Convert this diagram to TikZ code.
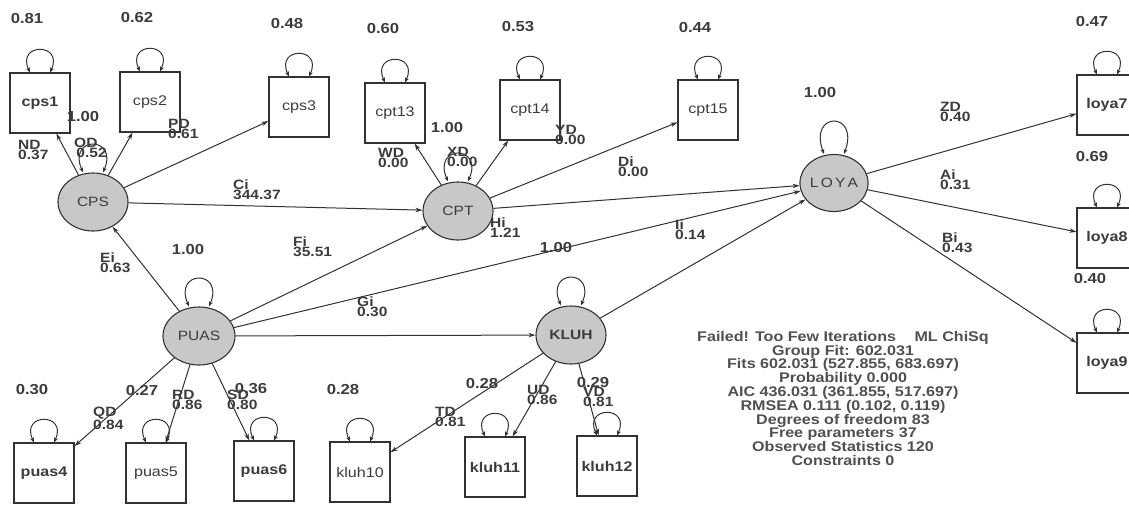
\documentclass[tikz,border=0pt]{standalone}
\usepackage{fontspec}
\setmainfont{Liberation Sans}[FakeStretch=1.15]
\usetikzlibrary{shapes.geometric,arrows.meta}
\definecolor{linec}{RGB}{50,50,50}
\definecolor{txtc}{RGB}{60,60,60}
\definecolor{statc}{RGB}{80,80,80}
\definecolor{latfill}{RGB}{200,200,200}
\newcommand\myloop[4]{% node, half width, ctrl dx, ctrl height
  \draw[loopa] ([xshift=-#2]#1.north) .. controls +(-#3,#4) and +(#3,#4) .. ([xshift=#2]#1.north);}
\begin{document}
\begin{tikzpicture}[x=1pt,y=-1pt,
  obs/.style={draw=linec, line width=1.1pt, minimum width=60pt, minimum height=60pt, inner sep=0pt, text=txtc, font=\fontsize{14}{16}\selectfont},
  obsb/.style={obs, font=\fontsize{14}{16}\selectfont\bfseries},
  lat/.style={ellipse, draw=linec, line width=1.1pt, fill=latfill, minimum width=70pt, minimum height=58pt, inner sep=0pt, text=txtc, font=\fontsize{13.5}{15}\selectfont},
  arr/.style={draw=linec, line width=1pt, -{Stealth[length=7pt,width=4.5pt]}},
  loopa/.style={draw=linec, line width=1pt, {Stealth[length=5pt,width=4pt]}-{Stealth[length=5pt,width=4pt]}},
  lbl/.style={font=\fontsize{13.5}{10}\selectfont\bfseries, text=txtc, inner sep=0pt, align=left, anchor=north west},
  var/.style={font=\fontsize{14.5}{15}\selectfont\bfseries, text=txtc, inner sep=0pt},
  stat/.style={font=\fontsize{14}{13.8}\selectfont\bfseries, text=statc, inner sep=0pt, align=center, anchor=north}
]
\useasboundingbox (0,0) rectangle (1129,515);

% observed variables
\node[obsb] (cps1) at (40,103) {cps1};
\node[obs] (cps2) at (150,102) {cps2};
\node[obs] (cps3) at (299,107) {cps3};
\node[obs] (cpt13) at (395,113) {cpt13};
\node[obs] (cpt14) at (530,110) {cpt14};
\node[obs] (cpt15) at (708,110) {cpt15};
\node[obsb] (loya7) at (1107,105) {loya7};
\node[obsb] (loya8) at (1107,238) {loya8};
\node[obsb] (loya9) at (1107,363) {loya9};
\node[obsb] (puas4) at (44,473) {puas4};
\node[obs] (puas5) at (156,473) {puas5};
\node[obsb] (puas6) at (264,471) {puas6};
\node[obs] (kluh10) at (360,472) {kluh10};
\node[obsb] (kluh11) at (495,467) {kluh11};
\node[obsb] (kluh12) at (607,466) {kluh12};

% latent variables
\node[lat] (cps) at (93,202) {CPS};
\node[lat] (cpt) at (458,211) {CPT};
\node[lat, minimum width=68pt, minimum height=57pt] (loya) at (834,183) {L\,O\,Y\,A};
\node[lat, minimum width=72pt] (puas) at (199,336) {PUAS};
\node[lat, font=\fontsize{13.5}{15}\selectfont\bfseries] (kluh) at (571,335) {KLUH};

% self loops
\foreach \n in {cps1,cps2,cps3,cpt13,cpt14,cpt15,loya7,loya8,loya9,puas4,puas5,puas6,kluh10,kluh11,kluh12}
  {\myloop{\n}{10pt}{14pt}{30pt}}
\foreach \n in {cps,cpt,puas,kluh}
  {\myloop{\n}{10pt}{16pt}{37pt}}
\myloop{loya}{10pt}{16pt}{43pt}

% structural and measurement paths
\draw[arr] (cps) -- (cps1);
\draw[arr] (cps) -- (cps2);
\draw[arr] (cps) -- (cps3);
\draw[arr] (cps) -- (cpt);
\draw[arr] (cpt) -- (cpt13);
\draw[arr] (cpt) -- (cpt14);
\draw[arr] (cpt) -- (cpt15);
\draw[arr] (cpt) -- (loya);
\draw[arr] (puas) -- (cps);
\draw[arr] (puas) -- (cpt);
\draw[arr] (puas) -- (loya);
\draw[arr] (puas) -- (kluh);
\draw[arr] (puas) -- (puas4);
\draw[arr] (puas) -- (puas5);
\draw[arr] (puas) -- (puas6);
\draw[arr] (kluh) -- (loya);
\draw[arr] (kluh) -- (kluh10);
\draw[arr] (kluh) -- (kluh11);
\draw[arr] (kluh) -- (kluh12);
\draw[arr] (loya) -- (loya7);
\draw[arr] (loya) -- (loya8);
\draw[arr] (loya) -- (loya9);

% variances
\node[var] (v1) at (27,19) {0.81};
\node[var] (v2) at (137,18) {0.62};
\node[var] (v3) at (287,24) {0.48};
\node[var] (v4) at (383,29) {0.60};
\node[var] (v5) at (518,27) {0.53};
\node[var] (v6) at (695,28) {0.44};
\node[var] (v7) at (1092,22) {0.47};
\node[var] (v8) at (820,93) {1.00};
\node[var] (v9) at (1092,157) {0.69};
\node[var] (v10) at (1090,279) {0.40};
\node[var] (v11) at (83,117) {1.00};
\node[var] (v12) at (447,128) {1.00};
\node[var] (v13) at (188,250) {1.00};
\node[var] (v14) at (556,248) {1.00};
\node[var] (v15) at (32,390) {0.30};
\node[var] (v16) at (142,390) {0.27};
\node[var] (v17) at (251,389) {0.36};
\node[var] (v18) at (343,389) {0.28};
\node[var] (v19) at (482,383) {0.28};
\node[var] (v20) at (593,382) {0.29};

% path labels
\node[lbl] (l1) at (18,140) {ND\\0.37};
\node[lbl] (l2) at (74,138) {OD\\\,0.52};
\node[lbl] (l3) at (168,119) {PD\\0.61};
\node[lbl] (l4) at (233,180) {Ci\\344.37};
\node[lbl] (l5) at (378,148) {WD\\0.00};
\node[lbl] (l6) at (447,147) {XD\\0.00};
\node[lbl] (l7) at (555,125) {YD\\0.00};
\node[lbl] (l8) at (618,157) {Di\\0.00};
\node[lbl] (l9) at (940,102) {ZD\\0.40};
\node[lbl] (l10) at (940,170) {Ai\\0.31};
\node[lbl] (l11) at (942,233) {Bi\\0.43};
\node[lbl] (l12) at (490,218) {Hi\\1.21};
\node[lbl] (l13) at (675,220) {Ii\\0.14};
\node[lbl] (l14) at (100,253) {Ei\\0.63};
\node[lbl] (l15) at (293,237) {Fi\\35.51};
\node[lbl] (l16) at (357,297) {Gi\\0.30};
\node[lbl] (l17) at (93,407) {QD\\0.84};
\node[lbl] (l18) at (172,390) {RD\\0.86};
\node[lbl] (l19) at (227,390) {SD\\0.80};
\node[lbl] (l20) at (435,407) {TD\\0.81};
\node[lbl] (l21) at (527,385) {UD\\0.86};
\node[lbl] (l22) at (583,387) {VD\\0.81};

% fit statistics
\node[stat] (fit) at (843,331) {Failed! Too Few Iterations\quad\ ML ChiSq\\
Group Fit: 602.031\\
Fits 602.031 (527.855, 683.697)\\
Probability 0.000\\
AIC 436.031 (361.855, 517.697)\\
RMSEA 0.111 (0.102, 0.119)\\
Degrees of freedom 83\\
Free parameters 37\\
Observed Statistics 120\\
Constraints 0};
\end{tikzpicture}
\end{document}
